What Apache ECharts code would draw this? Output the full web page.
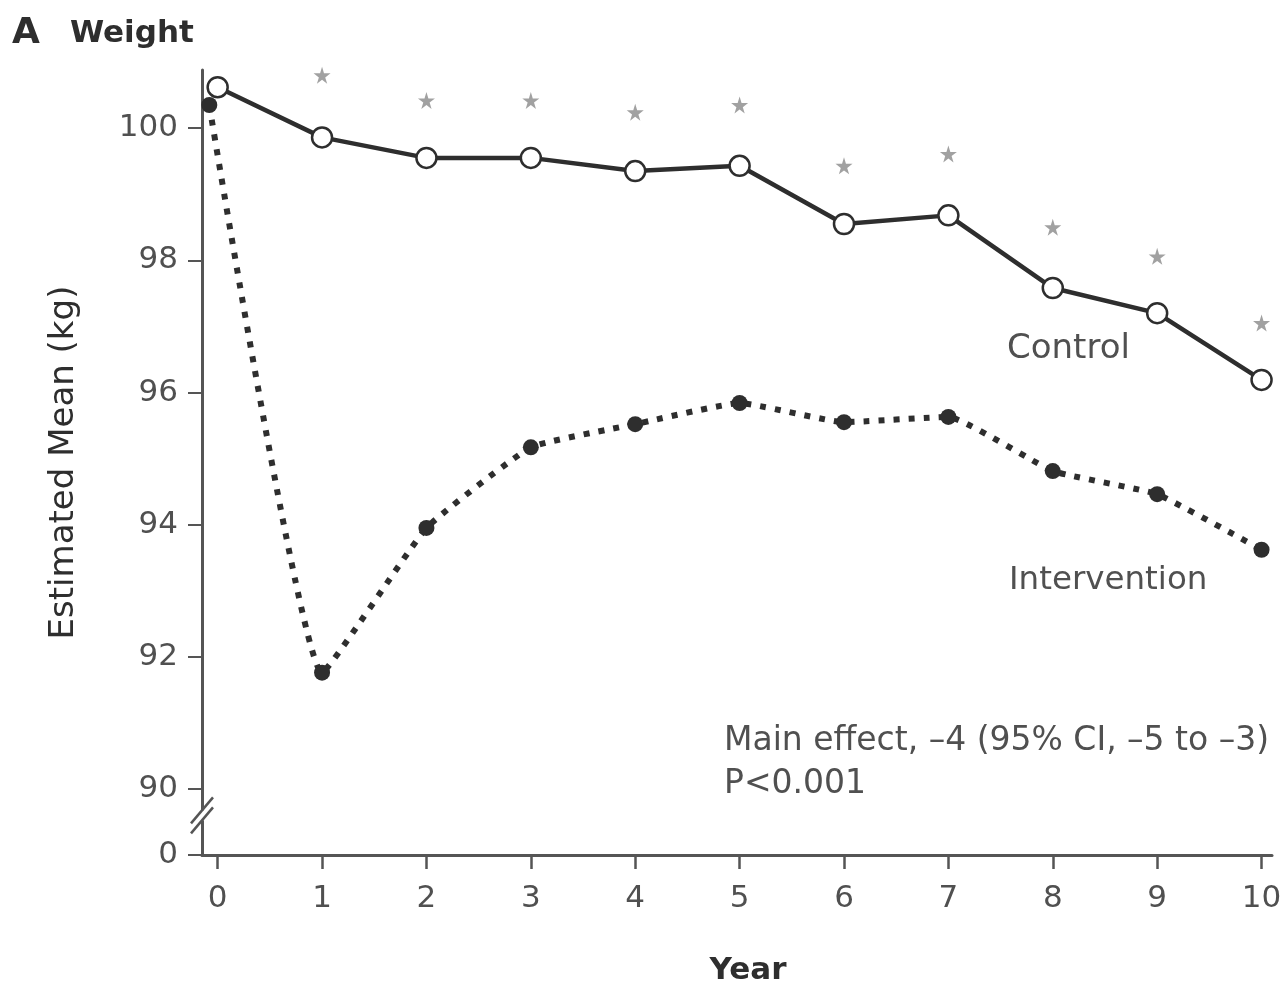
<!DOCTYPE html>
<html>
<head>
<meta charset="utf-8">
<script src="https://cdn.jsdelivr.net/npm/echarts@6/dist/echarts.min.js"></script>
<style>
  html, body { margin: 0; padding: 0; background: #fff; }
  #chart { width: 1283px; height: 983px; }
</style>
</head>
<body>
<div id="chart"></div>
<script>
// Estimated mean weight (kg) by study year
const years = [0, 1, 2, 3, 4, 5, 6, 7, 8, 9, 10];
const controlYears = [0, 1, 2, 3, 4, 5, 6, 7, 8, 9, 10];
const controlKg = [100.62, 99.86, 99.55, 99.55, 99.35, 99.43, 98.55, 98.68, 97.58, 97.20, 96.19];
// baseline point nudged left so it does not hide under the control marker
const interventionYears = [-0.08, 1, 2, 3, 4, 5, 6, 7, 8, 9, 10];
const interventionKg = [100.35, 91.76, 93.95, 95.17, 95.52, 95.84, 95.55, 95.63, 94.81, 94.46, 93.62];
// significance markers above each follow-up year
const starYears = [1, 2, 3, 4, 5, 6, 7, 8, 9, 10];
const starKg = [100.80, 100.42, 100.42, 100.24, 100.35, 99.43, 99.61, 98.50, 98.06, 97.05];
// y ticks; the lowest one sits below the axis break and reads as 0
const yTickValues = [89, 90, 92, 94, 96, 98, 100];
const yTickLabels = ['0', '90', '92', '94', '96', '98', '100'];

const FONT = '"DejaVu Sans", "Open Sans", sans-serif';
const INK = '#2e2e2e';
const AXIS = '#555';
const SOFT = '#505050';

const pair = (xs, ys) => xs.map((x, i) => [x, ys[i]]);

const chart = echarts.init(document.getElementById('chart'), null, { renderer: 'canvas' });

const option = {
  backgroundColor: '#fff',
  animation: false,
  grid: { left: 202, right: 11, top: 70, bottom: 128, containLabel: false, outerBoundsMode: 'none' },
  xAxis: {
    type: 'value',
    min: -0.15,
    max: 10.1,
    name: 'Year',
    nameLocation: 'middle',
    nameGap: 100,
    nameTextStyle: { fontFamily: FONT, fontSize: 31, fontWeight: 'bold', color: INK, padding: [0, 0, 0, 22] },
    axisLine: { show: true, onZero: false, lineStyle: { color: AXIS, width: 3 } },
    axisTick: { show: true, customValues: years, length: 14, lineStyle: { color: AXIS, width: 2.5 } },
    axisLabel: { customValues: years, margin: 28, fontFamily: FONT, fontSize: 31, color: SOFT },
    splitLine: { show: false }
  },
  yAxis: {
    type: 'value',
    min: 89,
    max: 100.88,
    name: 'Estimated Mean (kg)',
    nameLocation: 'middle',
    nameGap: 121,
    nameRotate: 90,
    nameTextStyle: { fontFamily: FONT, fontSize: 34, color: INK },
    axisLine: { show: true, onZero: false, lineStyle: { color: AXIS, width: 3 } },
    axisTick: { show: true, customValues: yTickValues, length: 14, lineStyle: { color: AXIS, width: 2 } },
    axisLabel: {
      customValues: yTickValues,
      margin: 24,
      fontFamily: FONT,
      fontSize: 31,
      color: SOFT,
      formatter: v => yTickLabels[yTickValues.indexOf(v)]
    },
    splitLine: { show: false }
  },
  series: [
    {
      name: 'Intervention',
      type: 'line',
      data: pair(interventionYears, interventionKg),
      smooth: 0.12,
      symbol: 'circle',
      symbolSize: 16,
      itemStyle: { color: INK },
      lineStyle: { color: INK, width: 6, type: [6, 9], cap: 'butt' },
      z: 2
    },
    {
      name: 'Control',
      type: 'line',
      data: pair(controlYears, controlKg),
      symbol: 'circle',
      symbolSize: 20,
      itemStyle: { color: '#fff', borderColor: INK, borderWidth: 2.5 },
      lineStyle: { color: INK, width: 4.5 },
      z: 3
    },
    {
      name: 'Significance',
      type: 'scatter',
      data: pair(starYears, starKg),
      symbol: 'path://M50,0 L61,35 L98,35 L68,57 L79,91 L50,70 L21,91 L32,57 L2,35 L39,35 Z',
      symbolSize: 17,
      itemStyle: { color: '#8a8a8a' },
      z: 1
    }
  ],
  graphic: [
    {
      type: 'text', left: 12, top: 16,
      style: { text: 'A', fontFamily: FONT, fontSize: 36, fontWeight: 'bold', fill: INK }
    },
    {
      type: 'text', left: 70, top: 18,
      style: { text: 'Weight', fontFamily: FONT, fontSize: 31, fontWeight: 'bold', fill: INK }
    },
    {
      type: 'text', left: 1007, top: 332,
      style: { text: 'Control', fontFamily: FONT, fontSize: 34, fill: SOFT }
    },
    {
      type: 'text', left: 1009, top: 564,
      style: { text: 'Intervention', fontFamily: FONT, fontSize: 32.5, fill: SOFT }
    },
    {
      type: 'text', left: 724, top: 720,
      style: {
        text: 'Main effect, \u20134 (95% CI, \u20135 to \u20133)\nP<0.001',
        fontFamily: FONT, fontSize: 33, lineHeight: 43, fill: SOFT
      }
    }
  ]
};

chart.setOption(option);

// axis-break marks: two short slashes across the y axis between the 0 and 90 ticks
const mid = chart.convertToPixel({ gridIndex: 0 }, [-0.15, 89.6]);
const slash = (dy) => ({
  type: 'line',
  shape: { x1: mid[0] - 11, y1: mid[1] + 13 + dy, x2: mid[0] + 11, y2: mid[1] - 13 + dy },
  style: { stroke: AXIS, lineWidth: 2.5 },
  z: 10
});
chart.setOption({
  graphic: option.graphic.concat([
    {
      type: 'rect',
      shape: { x: mid[0] - 3, y: mid[1] - 5, width: 6, height: 10 },
      style: { fill: '#fff' },
      z: 9
    },
    slash(-5),
    slash(5)
  ])
});
</script>
</body>
</html>
